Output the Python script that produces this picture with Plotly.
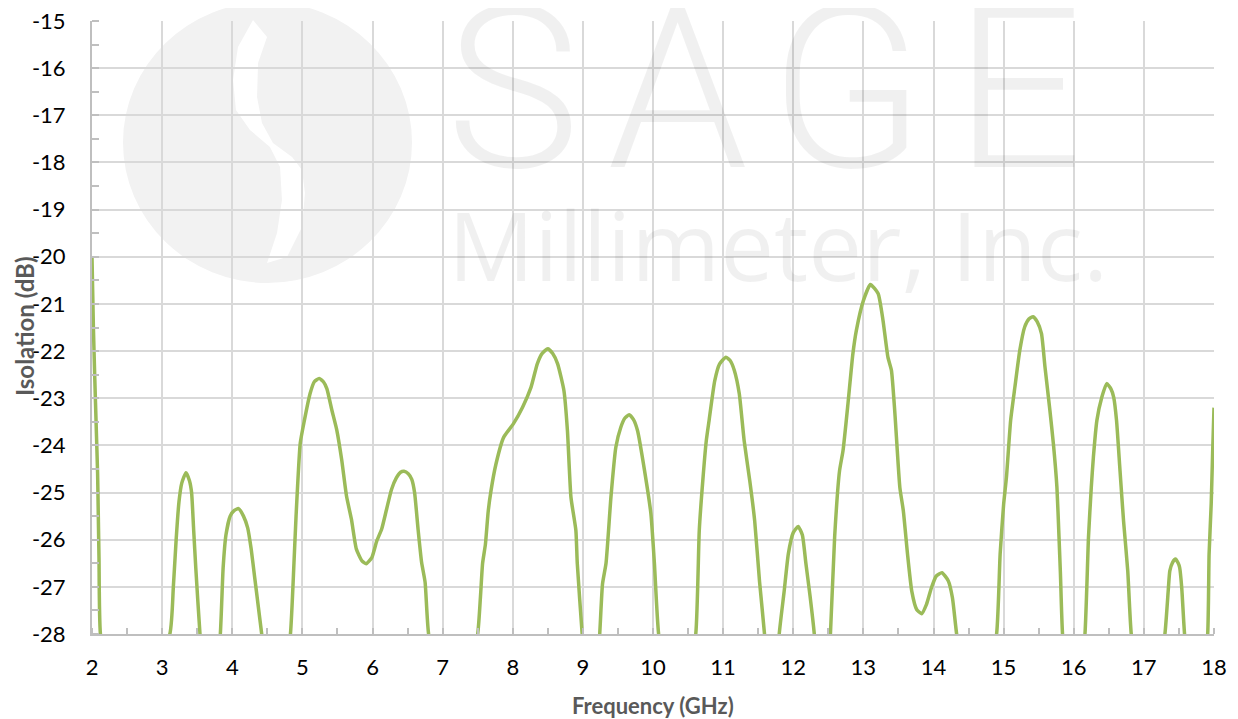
import plotly.graph_objects as go

# frequency (GHz) and isolation (dB);
# the -30.5 points sit in the gaps where the curve drops below the axis floor
freq_ghz = [
    2.00, 2.02, 2.04, 2.06, 2.08, 2.09, 2.10, 2.12, 2.40,
    3.11, 3.16, 3.20, 3.24, 3.28, 3.34, 3.39, 3.42, 3.45, 3.48, 3.54, 3.68,
    3.83, 3.87, 3.91, 3.97, 4.03, 4.09, 4.16, 4.22, 4.27, 4.32, 4.37, 4.42, 4.62,
    4.83, 4.88, 4.91, 4.97, 5.03, 5.11, 5.17, 5.24, 5.30, 5.35, 5.42, 5.49, 5.56,
    5.63, 5.70, 5.77, 5.85, 5.91, 5.99, 6.06, 6.13, 6.20, 6.27, 6.34, 6.40, 6.45,
    6.51, 6.56, 6.60, 6.65, 6.70, 6.75, 6.80, 7.15,
    7.50, 7.54, 7.57, 7.61, 7.65, 7.69, 7.76, 7.87, 8.01, 8.14, 8.26, 8.35, 8.42,
    8.50, 8.57, 8.64, 8.73, 8.78, 8.83, 8.90, 8.92, 8.99, 9.12,
    9.24, 9.28, 9.33, 9.40, 9.47, 9.54, 9.60, 9.66, 9.72, 9.78, 9.88, 9.97, 10.02,
    10.08, 10.35,
    10.61, 10.66, 10.71, 10.76, 10.80, 10.88, 10.95, 11.04, 11.10, 11.16, 11.23,
    11.30, 11.38, 11.45, 11.52, 11.59, 11.70,
    11.80, 11.87, 11.93, 12.00, 12.07, 12.13, 12.18, 12.24, 12.30, 12.42,
    12.53, 12.59, 12.66, 12.71, 12.78, 12.85, 12.90, 13.00, 13.10, 13.21, 13.28,
    13.35, 13.40, 13.45, 13.52, 13.57, 13.63, 13.69, 13.76, 13.83, 13.90, 13.97,
    14.04, 14.12, 14.21, 14.27, 14.33, 14.60,
    14.90, 14.95, 15.00, 15.04, 15.10, 15.16, 15.23, 15.30, 15.36, 15.42, 15.48,
    15.54, 15.59, 15.66, 15.71, 15.76, 15.79, 15.81, 15.84, 16.00,
    16.16, 16.21, 16.25, 16.28, 16.33, 16.40, 16.47, 16.53, 16.57, 16.61, 16.66,
    16.71, 16.77, 16.82, 17.05,
    17.30, 17.35, 17.37, 17.41, 17.45, 17.49, 17.51, 17.54, 17.58, 17.75,
    17.91, 17.93, 17.96, 17.98, 18.00,
]
isolation_db = [
    -20.0, -21.5, -22.6, -23.6, -24.6, -25.5, -26.4, -28.0, -30.5,
    -28.0, -27.0, -26.0, -25.2, -24.8, -24.58, -24.75, -25.0, -25.8, -26.6, -28.0, -30.5,
    -28.0, -26.6, -25.9, -25.5, -25.38, -25.34, -25.5, -25.75, -26.2, -26.8, -27.4, -28.0, -30.5,
    -28.0, -26.5, -25.5, -23.95, -23.46, -22.9, -22.65, -22.58, -22.65, -22.8, -23.25, -23.67, -24.3,
    -25.08, -25.57, -26.2, -26.45, -26.51, -26.38, -26.03, -25.78, -25.36, -24.94, -24.69, -24.57, -24.55,
    -24.6, -24.72, -25.0, -25.78, -26.48, -26.9, -28.0, -30.5,
    -28.0, -27.2, -26.5, -26.1, -25.4, -24.96, -24.4, -23.83, -23.54, -23.19, -22.77, -22.27, -22.05,
    -21.95, -22.05, -22.27, -22.84, -23.69, -25.1, -25.8, -26.5, -28.0, -30.5,
    -28.0, -26.94, -26.5, -25.1, -24.04, -23.62, -23.42, -23.35, -23.45, -23.69, -24.54, -25.45, -26.5,
    -28.0, -30.5,
    -28.0, -25.8, -24.75, -23.9, -23.47, -22.63, -22.27, -22.13, -22.2, -22.41, -22.9,
    -23.9, -24.75, -25.6, -26.9, -28.0, -30.5,
    -28.0, -27.1, -26.3, -25.85, -25.72, -25.9, -26.5, -27.2, -28.0, -30.5,
    -28.0, -25.95, -24.54, -24.11, -23.12, -22.06, -21.56, -20.93, -20.59, -20.78, -21.35,
    -22.13, -22.41, -23.33, -24.89, -25.39, -26.31, -27.09, -27.48, -27.57, -27.37, -27.02,
    -26.77, -26.7, -26.87, -27.23, -28.0, -30.5,
    -28.0, -26.31, -25.25, -24.68, -23.47, -22.77, -21.99, -21.49, -21.32, -21.27, -21.38,
    -21.63, -22.34, -23.26, -23.97, -24.89, -25.95, -26.72, -28.0, -30.5,
    -28.0, -25.95, -24.89, -24.25, -23.47, -22.98, -22.69, -22.8, -22.98, -23.47, -24.54,
    -25.6, -26.66, -28.0, -30.5,
    -28.0, -27.02, -26.66, -26.48, -26.41, -26.5, -26.59, -27.02, -28.0, -30.5,
    -28.0, -26.31, -25.24, -24.18, -23.2,
]

x_ticks = list(range(2, 19))
y_ticks = list(range(-28, -14))
y_tick_text = ["-28", "-27", "-26", "-25", "-24", "-23", "-22", "-21", "-20",
               "-19", "-18", "-17", "-16", "-15"]

# plot area in window pixels (the page body adds an 8px margin)
L, R, T, B = 92, 1214, 21, 634
BODY = 8
W, H = 1238 - BODY, 719 - BODY


def px(xp, yp):
    # window pixel -> paper coordinates
    return (xp - L) / (R - L), (B - yp) / (B - T)


def path_from(points):
    pts = [px(a, b) for a, b in points]
    d = "M %.4f,%.4f " % pts[0]
    d += " ".join("L %.4f,%.4f" % p for p in pts[1:])
    return d + " Z"


line_color = "#9BBB59"
grid_color = "#D9D9D9"
axis_color = "#BFBFBF"
font_family = "Lato, Carlito, Calibri, sans-serif"

fig = go.Figure()
fig.add_trace(
    go.Scatter(
        x=freq_ghz,
        y=isolation_db,
        mode="lines",
        line=dict(color=line_color, width=3.5, shape="spline", smoothing=0.5),
        showlegend=False,
    )
)

# watermark logo: grey disc with a white S-shaped gap
cx0, cy0 = px(123, 283)
cx1, cy1 = px(412, 2)
shapes = [
    dict(type="circle", xref="paper", yref="paper", x0=cx0, y0=cy0, x1=cx1, y1=cy1,
         fillcolor="#F2F2F2", line=dict(width=0), layer="below"),
    dict(type="path", xref="paper", yref="paper", layer="below",
         fillcolor="white", line=dict(width=0),
         path=path_from([
             (253, 20), (238, 47), (233, 80), (236, 110), (250, 130), (270, 147),
             (280, 167), (282, 200), (277, 233), (267, 263), (287, 257), (302, 227),
             (305, 193), (302, 170), (292, 157), (273, 143), (262, 123), (257, 97),
             (258, 63), (267, 37),
         ])),
]

wm_color = "rgba(0,0,0,0.06)"
annotations = []
# "SAGE" letters placed one by one for the wide letter spacing
for letter, cxp in zip("SAGE", [513, 677, 847, 1018]):
    lx, ly = px(cxp, 90)
    annotations.append(
        dict(text=letter, x=lx, y=ly, xref="paper", yref="paper", showarrow=False,
             xanchor="center", yanchor="middle",
             font=dict(family="Roboto", size=226, color=wm_color, weight=300)))
mx, my = px(778, 244)
annotations.append(
    dict(text="Millimeter, Inc.", x=mx, y=my, xref="paper", yref="paper",
         showarrow=False, xanchor="center", yanchor="middle",
         font=dict(family="Open Sans", size=96, color=wm_color)))

fx, fy = px(653, 706)
ix, iy = px(24, 327)
annotations += [
    dict(text="<b>Frequency (GHz)</b>", x=fx, y=fy, xref="paper", yref="paper",
         showarrow=False, xanchor="center", yanchor="middle",
         font=dict(family=font_family, size=22, color="#595959")),
    dict(text="<b>Isolation (dB)</b>", x=ix, y=iy, xref="paper", yref="paper",
         showarrow=False, xanchor="center", yanchor="middle", textangle=-90,
         font=dict(family=font_family, size=24, color="#595959")),
]

fig.update_layout(
    width=W,
    height=H,
    margin=dict(l=L - BODY, r=W - (R - BODY), t=T - BODY, b=H - (B - BODY),
                autoexpand=False),
    plot_bgcolor="rgba(0,0,0,0)",
    paper_bgcolor="white",
    shapes=shapes,
    annotations=annotations,
    font=dict(family=font_family, size=22, color="black"),
)
fig.update_xaxes(
    range=[2, 18],
    tickvals=x_ticks,
    showgrid=True,
    gridcolor=grid_color,
    gridwidth=1.5,
    showline=True,
    linecolor=axis_color,
    linewidth=2,
    ticks="",
    ticklabelstandoff=13,
    ticklabeloverflow="allow",
    automargin=False,
    zeroline=False,
    minor=dict(dtick=0.5, ticks="inside", ticklen=6, tickcolor=axis_color,
               tickwidth=1.5, showgrid=False),
)
fig.update_yaxes(
    range=[-28, -15],
    tickvals=y_ticks,
    ticktext=y_tick_text,
    showgrid=True,
    gridcolor=grid_color,
    gridwidth=1.5,
    showline=True,
    linecolor=axis_color,
    linewidth=2,
    ticks="",
    ticklabelstandoff=20,
    ticklabeloverflow="allow",
    automargin=False,
    zeroline=False,
    minor=dict(dtick=0.5, ticks="inside", ticklen=7, tickcolor=axis_color,
               tickwidth=1.5, showgrid=False),
)

fig.write_html("out.html")
